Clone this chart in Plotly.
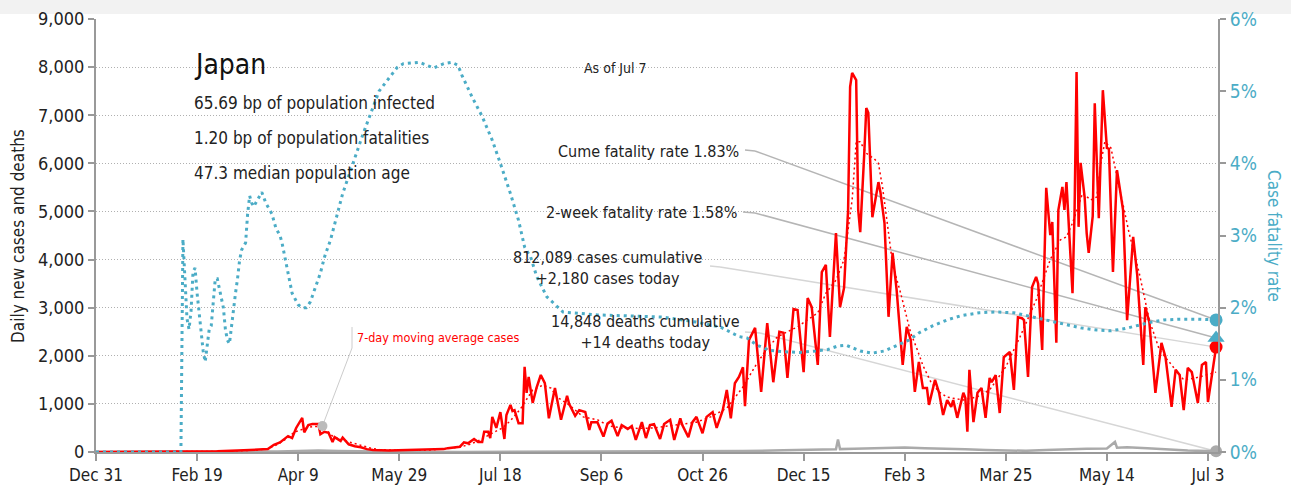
import pandas as pd
import plotly.graph_objects as go

# ---------------- data ----------------
START = "2019-12-31"
tick_days = [0, 50, 100, 150, 200, 250, 300, 350, 400, 450, 500, 550]
tick_labels = ["Dec 31", "Feb 19", "Apr 9", "May 29", "Jul 18", "Sep 6",
               "Oct 26", "Dec 15", "Feb 3", "Mar 25", "May 14", "Jul 3"]

# daily new cases (days since Dec 31 2019, value)
case_day = [0, 20, 40, 50, 60, 70, 80, 85, 88, 91, 95, 97, 99, 102, 103, 105, 107, 110, 111, 113,
            115, 117, 118, 121, 122, 125, 128, 131, 134, 137, 145, 155, 165, 172, 174, 178, 180, 182,
            184, 187, 189, 191, 192, 194, 195, 196, 198, 200, 202, 203, 205, 206, 207, 209, 211, 212,
            213, 214, 216, 218, 220, 222, 224, 227, 230, 233, 234, 237, 239, 242, 244, 245, 248, 251,
            253, 255, 258, 260, 263, 265, 267, 270, 272, 274, 276, 279, 281, 284, 286, 289, 290, 293,
            295, 297, 300, 302, 305, 307, 310, 312, 314, 316, 318, 320, 321, 323, 326, 329, 332, 335,
            338, 340, 342, 345, 347, 350, 352, 354, 357, 359, 361, 363, 366, 368, 370, 372, 373, 374,
            376, 377, 378, 380, 381, 382, 384, 387, 388, 390, 392, 394, 396, 399, 401, 403, 405, 407,
            409, 411, 412, 415, 417, 419, 421, 423, 424, 426, 429, 430, 431, 432, 434, 436, 438, 440,
            442, 443, 445, 447, 449, 452, 454, 456, 458, 459, 461, 463, 465, 466, 468, 470, 472, 473,
            475, 476, 478, 479, 480, 483, 484, 485, 486, 487, 489, 490, 491, 493, 494, 496, 498, 500,
            501, 503, 505, 508, 510, 513, 515, 516, 518, 519, 521, 524, 527, 529, 532, 534, 536, 538,
            540, 542, 545, 547, 549, 550, 554]
case_val = [0, 0, 2, 5, 15, 30, 40, 60, 150, 200, 330, 290, 500, 710, 410, 560, 580, 580, 370, 420,
            400, 210, 310, 230, 300, 160, 120, 100, 60, 40, 30, 40, 45, 60, 80, 100, 110, 200,
            180, 270, 210, 210, 420, 420, 290, 730, 500, 830, 270, 770, 980, 850, 870, 600, 600, 1770,
            1230, 1560, 1020, 1350, 1600, 1430, 700, 1330, 670, 1170, 1000, 750, 870, 830, 460, 620, 620, 320,
            590, 650, 330, 560, 480, 540, 250, 620, 290, 560, 580, 270, 580, 670, 250, 700, 560, 310,
            620, 730, 390, 730, 830, 500, 870, 1290, 700, 1430, 1560, 1760, 950, 2330, 2580, 1250, 2680, 1450,
            2500, 2480, 1540, 2970, 2950, 1660, 3200, 3010, 1810, 3740, 3890, 2390, 4550, 3010, 3410, 5030, 7590, 7880,
            7730, 5030, 4570, 6210, 7150, 7050, 4880, 5610, 5400, 4760, 2810, 4140, 3370, 1810, 2600, 2330, 1250, 1870,
            1330, 1330, 980, 1500, 1230, 770, 1080, 940, 1080, 710, 1230, 1120, 420, 1710, 620, 1230, 1330, 710,
            1540, 1450, 1600, 810, 1970, 2080, 1290, 2800, 2780, 2740, 1560, 3430, 3640, 3500, 2120, 5490, 4510, 4780,
            2270, 5030, 5510, 5030, 5610, 3300, 4970, 7900, 4680, 6010, 5300, 4550, 4140, 4900, 7250, 4860, 7520, 6320,
            6300, 3740, 5860, 5030, 2740, 4470, 3680, 3050, 1810, 3010, 2700, 1230, 2270, 1970, 940, 1710, 1600, 870,
            1750, 1660, 1020, 1810, 1870, 1040, 2180]

# 7-day moving average of cases
avg_day = [0, 50, 60, 70, 80, 85, 90, 95, 98, 102, 106, 112, 114, 117, 121, 126, 131, 136, 140, 150,
           165, 175, 180, 185, 190, 195, 201, 205, 210, 216, 221, 225, 228, 234, 241, 248, 254, 260, 268,
           276, 284, 290, 297, 304, 312, 320, 327, 332, 337, 342, 347, 352, 357, 361, 366, 370, 372, 374,
           376, 378, 381, 385, 387, 389, 391, 394, 398, 403, 406, 409, 413, 417, 421, 429, 436, 442, 450,
           457, 465, 472, 477, 480, 483, 488, 492, 495, 497, 499, 502, 506, 511, 516, 521, 526, 533, 538,
           544, 549, 554]
avg_val = [0, 3, 12, 25, 40, 70, 160, 300, 410, 470, 520, 540, 460, 330, 260, 200, 140, 80, 50, 35,
           40, 70, 100, 160, 250, 370, 500, 650, 900, 1290, 1390, 1330, 1140, 980, 730, 670, 540, 500, 490,
           500, 540, 580, 620, 730, 910, 1350, 1850, 2150, 2390, 2500, 2600, 2750, 2890, 3300, 3570, 4000, 4600, 5240,
           6450, 6450, 6210, 6090, 6000, 5510, 4880, 3900, 3300, 2470, 2150, 1800, 1450, 1250, 1140, 1080, 1150, 1290, 1770,
           2390, 3160, 4000, 4410, 4470, 4760, 5380, 5240, 5300, 6000, 6450, 6320, 5510, 4550, 3720, 2740, 2120, 1770, 1500,
           1540, 1600, 1660]

# daily new deaths
death_day = [0, 50, 60, 80, 90, 100, 110, 120, 130, 150, 180, 200, 220, 240, 260, 280, 300, 320, 340,
             355, 366, 367, 368, 375, 385, 395, 400, 410, 420, 430, 440, 450, 460, 470, 480, 490, 500,
             504, 505, 510, 520, 530, 540, 550, 554]
death_val = [0, 0, 2, 5, 10, 20, 30, 20, 10, 3, 2, 3, 10, 12, 8, 7, 8, 20, 35,
             50, 55, 260, 60, 65, 80, 90, 95, 80, 75, 55, 40, 30, 25, 40, 60, 70, 75,
             210, 90, 100, 80, 50, 30, 20, 14]

# case fatality rate, %
cfr_day = [0, 42, 43, 44, 45, 46, 47, 48, 49, 50, 51, 52, 53, 54, 55, 56, 57, 58, 59, 60, 61, 62, 63,
           64, 65, 66, 67, 68, 69, 70, 71, 72, 74, 75, 76, 77, 78, 80, 82, 84, 85, 87, 89, 91, 92, 94,
           96, 97, 100, 102, 104, 106, 108, 111, 113, 116, 122, 132, 140, 149, 152, 160, 167, 172, 176,
           179, 181, 186, 191, 196, 200, 205, 209, 212, 215, 218, 223, 231, 248, 264, 280, 297, 309, 318,
           322, 327, 333, 340, 348, 356, 362, 367, 371, 378, 384, 390, 396, 402, 407, 414, 421, 428, 437,
           445, 454, 462, 470, 478, 487, 495, 502, 509, 516, 522, 528, 536, 545, 554]
cfr_val = [0, 0, 2.95, 2.4, 1.85, 1.7, 1.95, 2.5, 2.55, 2.2, 1.9, 1.6, 1.4, 1.25, 1.45, 1.7, 1.75, 2.05,
           2.4, 2.4, 2.25, 2.1, 2.0, 1.7, 1.55, 1.5, 1.75, 2.0, 2.2, 2.4, 2.65, 2.8, 2.9, 3.3, 3.55, 3.45,
           3.4, 3.5, 3.6, 3.45, 3.4, 3.3, 3.1, 3.0, 2.9, 2.6, 2.35, 2.2, 2.04, 2.0, 2.0, 2.08, 2.24, 2.48,
           2.7, 2.94, 3.58, 4.4, 5.0, 5.33, 5.38, 5.40, 5.32, 5.38, 5.40, 5.36, 5.22, 4.92, 4.65, 4.32, 4.0,
           3.58, 3.21, 2.84, 2.7, 2.43, 2.15, 1.94, 1.9, 1.88, 1.87, 1.8, 1.73, 1.6, 1.58, 1.48, 1.41, 1.39,
           1.38, 1.40, 1.42, 1.47, 1.48, 1.40, 1.37, 1.40, 1.47, 1.55, 1.65, 1.75, 1.83, 1.89, 1.93, 1.94,
           1.93, 1.88, 1.83, 1.77, 1.72, 1.69, 1.68, 1.71, 1.76, 1.80, 1.83, 1.84, 1.84, 1.83]

two_week_cfr = 1.58
cases_cumulative = 812089
deaths_cumulative = 14848
bp_infected = 65.69
bp_fatalities = 1.20
median_age = 47.3
avg_label_day = 112

# ---------------- helpers ----------------
t0 = pd.Timestamp(START)


def to_dates(days):
    return [t0 + pd.Timedelta(days=d) for d in days]


Y_MAX, Y2_MAX = 9000, 6
W, H = 1291, 490
L, R, T, B = 96, 1218, 19, 452   # plot area in pixels
X_SPAN = 554.96                  # days visible on the x axis


def xp(px):
    return (px - L) / (R - L)


def yp(py):
    return (B - py) / (B - T)


def day_at(px):
    return t0 + pd.Timedelta(days=(px - L) / ((R - L) / X_SPAN))


def val_at(py):
    return (B - py) / (B - T) * Y_MAX


FONT = "DejaVu Sans Condensed, Liberation Sans Narrow, Arial Narrow, sans-serif"
RED = "#ff0000"
TEAL = "#4bacc6"
GRAY = "#aaaaaa"

case_x = to_dates(case_day)
last_x = case_x[-1]
cume_cfr = cfr_val[-1]
k2 = Y_MAX / Y2_MAX

fig = go.Figure()

fig.add_trace(go.Scatter(x=to_dates(death_day), y=death_val, mode="lines",
                         line=dict(color=GRAY, width=2.5), name="Deaths"))
fig.add_trace(go.Scatter(x=to_dates(avg_day), y=avg_val, mode="lines",
                         line=dict(color=RED, width=1.5, dash="2px,3px"), name="7-day avg"))
fig.add_trace(go.Scatter(x=case_x, y=case_val, mode="lines",
                         line=dict(color=RED, width=2.5), name="Cases"))
fig.add_trace(go.Scatter(x=to_dates(cfr_day), y=cfr_val, mode="lines", yaxis="y2",
                         line=dict(color=TEAL, width=3, dash="3px,4px"), name="CFR"))

# annotation marker on 7-day average
i_lab = avg_day.index(avg_label_day)
fig.add_trace(go.Scatter(x=[to_dates([avg_label_day])[0]], y=[avg_val[i_lab]], mode="markers",
                         marker=dict(color="#bbbbbb", size=10), cliponaxis=False))

# end markers (all on the right-axis layer so the stacking order is explicit)
fig.add_trace(go.Scatter(x=[last_x], y=[death_val[-1] / k2], mode="markers", yaxis="y2",
                         marker=dict(color=GRAY, size=12), cliponaxis=False))
fig.add_trace(go.Scatter(x=[last_x], y=[case_val[-1] / k2], mode="markers", yaxis="y2",
                         marker=dict(color=RED, size=13), cliponaxis=False))
fig.add_trace(go.Scatter(x=[last_x], y=[two_week_cfr], mode="markers", yaxis="y2",
                         marker=dict(color=TEAL, size=15, symbol="triangle-up"), cliponaxis=False))
fig.add_trace(go.Scatter(x=[last_x], y=[cume_cfr], mode="markers", yaxis="y2",
                         marker=dict(color=TEAL, size=13), cliponaxis=False))

# ---------------- leader lines ----------------
shapes = []


def poly(points, color, width=1.5):
    for (xa, ya), (xb, yb) in zip(points[:-1], points[1:]):
        shapes.append(dict(type="line", xref="x", yref="y", x0=xa, y0=ya, x1=xb, y1=yb,
                           line=dict(color=color, width=width), layer="below"))


poly([(day_at(745), val_at(150)), (day_at(755), val_at(151)), (last_x, cume_cfr * k2)], "#b5b5b5")
poly([(day_at(743), val_at(212)), (day_at(755), val_at(213)), (last_x, two_week_cfr * k2)], "#b5b5b5")
poly([(day_at(710), val_at(266)), (day_at(720), val_at(267)), (last_x, case_val[-1])], "#d6d6d6")
poly([(day_at(745), val_at(332)), (day_at(760), val_at(333)), (last_x, death_val[-1])], "#d6d6d6")
poly([(day_at(352), val_at(327)), (day_at(352), val_at(348)),
      (to_dates([avg_label_day])[0], avg_val[i_lab])], "#cccccc", 1)

# top grey band
shapes.append(dict(type="rect", xref="paper", yref="paper", x0=xp(0), x1=xp(W),
                   y0=yp(0), y1=yp(14), fillcolor="#f2f2f2", line=dict(width=0), layer="below"))

# ---------------- annotations ----------------
ann = []


def text(px, py, s, size, color="#222222", xanchor="left", align="left"):
    ann.append(dict(xref="paper", yref="paper", x=xp(px), y=yp(py), text=s, showarrow=False,
                    xanchor=xanchor, yanchor="middle", align=align,
                    font=dict(family=FONT, size=size, color=color)))


text(192, 65, "Japan", 28, "#111111")
text(192, 103, f"{bp_infected:.2f} bp of population infected", 17)
text(192, 138, f"{bp_fatalities:.2f} bp of population fatalities", 17)
text(192, 173, f"{median_age:.1f} median population age", 17)
text(582, 68, f"As of {last_x.strftime('%b')} {last_x.day}", 14)
text(741, 151, f"Cume fatality rate {cume_cfr:.2f}%", 16, xanchor="right", align="right")
text(739, 212, f"2-week fatality rate {two_week_cfr:.2f}%", 16, xanchor="right", align="right")
text(607, 268, f"{cases_cumulative:,} cases cumulative<br>+{case_val[-1]:,} cases today", 16,
     xanchor="center", align="center")
text(645, 332, f"{deaths_cumulative:,} deaths cumulative<br>+{death_val[-1]:,} deaths today", 16,
     xanchor="center", align="center")
text(355, 337, "7-day moving average cases", 12.5, RED)
ann.append(dict(xref="paper", yref="paper", x=xp(1274), y=yp(236), text="Case fatality rate",
                textangle=90, showarrow=False, xanchor="center", yanchor="middle",
                font=dict(family=FONT, size=17, color=TEAL)))
ann.append(dict(xref="paper", yref="paper", x=xp(18), y=yp(236), text="Daily new cases and deaths",
                textangle=-90, showarrow=False, xanchor="center", yanchor="middle",
                font=dict(family=FONT, size=17, color="#222222")))

fig.update_layout(
    template="none",
    width=W, height=H, autosize=False,
    margin=dict(l=L, r=W - R, t=T, b=H - B, pad=0),
    paper_bgcolor="white", plot_bgcolor="white",
    showlegend=False,
    font=dict(family=FONT, size=18, color="#222222"),
    xaxis=dict(type="date", range=[t0, t0 + pd.Timedelta(days=X_SPAN)], automargin=False,
               tickvals=to_dates(tick_days), ticktext=tick_labels,
               showgrid=False, zeroline=False, showline=True, linecolor="#999999", linewidth=2,
               ticks="outside", ticklen=7, tickwidth=1.5, tickcolor="#999999",
               tickfont=dict(size=17, color="#222222")),
    yaxis=dict(range=[0, Y_MAX], dtick=1000, tickformat=",d", automargin=False,
               showgrid=True, gridcolor="#b0b0b0", griddash="1px,2px", gridwidth=1,
               zeroline=False, showline=True, linecolor="#999999", linewidth=2,
               ticks="outside", ticklen=6, tickwidth=1.5, tickcolor="#999999",
               tickfont=dict(size=18, color="#222222")),
    yaxis2=dict(range=[0, Y2_MAX], dtick=1, ticksuffix="%", overlaying="y", side="right",
                automargin=False,
                showgrid=False, zeroline=False, showline=True, linecolor="#999999", linewidth=2,
                ticks="outside", ticklen=6, tickwidth=1.5, tickcolor="#999999",
                tickfont=dict(size=19, color=TEAL)),
    shapes=shapes, annotations=ann,
)

fig.write_html("out.html", config={"displayModeBar": False},
               post_script="document.body.style.margin='0';document.body.style.overflow='hidden';")
